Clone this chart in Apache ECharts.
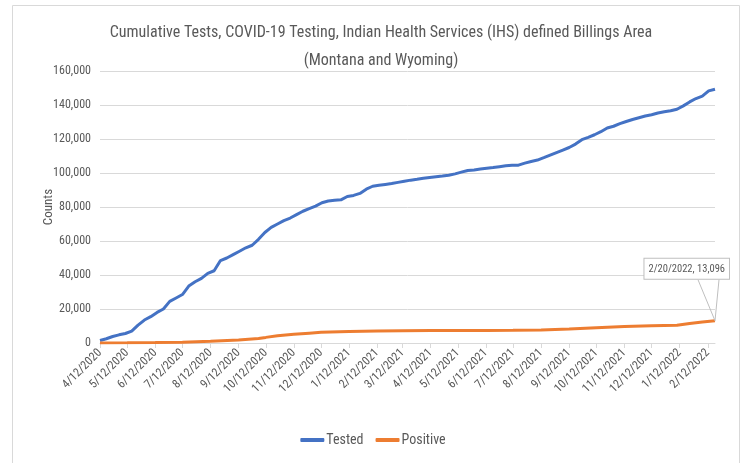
<!DOCTYPE html>
<html>
<head>
<meta charset="utf-8">
<script src="https://cdn.jsdelivr.net/npm/echarts@6/dist/echarts.min.js"></script>
<style>html,body{margin:0;padding:0;background:#fff}#c{width:746px;height:463px}</style>
</head>
<body>
<div id="c"></div>
<script>
var titleText = 'Cumulative Tests, COVID-19 Testing, Indian Health Services (IHS) defined Billings Area\n(Montana and Wyoming)';
var yTicks = [0, 20000, 40000, 60000, 80000, 100000, 120000, 140000, 160000];
var startDate = '2020-04-12';
var endDate = '2022-02-20';

var testedDates = ['2020-04-12','2020-04-19','2020-04-26','2020-05-03','2020-05-10','2020-05-17','2020-05-24','2020-05-31','2020-06-07','2020-06-14','2020-06-21','2020-06-28','2020-07-05','2020-07-12','2020-07-19','2020-07-26','2020-08-02','2020-08-09','2020-08-16','2020-08-23','2020-08-30','2020-09-06','2020-09-13','2020-09-20','2020-09-27','2020-10-04','2020-10-11','2020-10-18','2020-10-25','2020-11-01','2020-11-08','2020-11-15','2020-11-22','2020-11-29','2020-12-06','2020-12-13','2020-12-20','2020-12-27','2021-01-03','2021-01-10','2021-01-17','2021-01-24','2021-01-31','2021-02-07','2021-02-14','2021-02-21','2021-02-28','2021-03-07','2021-03-14','2021-03-21','2021-03-28','2021-04-04','2021-04-11','2021-04-18','2021-04-25','2021-05-02','2021-05-09','2021-05-16','2021-05-23','2021-05-30','2021-06-06','2021-06-13','2021-06-20','2021-06-27','2021-07-04','2021-07-11','2021-07-18','2021-07-25','2021-08-01','2021-08-08','2021-08-15','2021-08-22','2021-08-29','2021-09-05','2021-09-12','2021-09-19','2021-09-26','2021-10-03','2021-10-10','2021-10-17','2021-10-24','2021-10-31','2021-11-07','2021-11-14','2021-11-21','2021-11-28','2021-12-05','2021-12-12','2021-12-19','2021-12-26','2022-01-02','2022-01-09','2022-01-16','2022-01-23','2022-01-30','2022-02-06','2022-02-13','2022-02-20'];
var testedValues = [1500,2500,3800,4800,5600,7000,10500,13500,15500,18000,20000,24500,26500,28500,33500,36000,38000,41000,42500,48500,50000,52000,54000,56000,57500,61000,65000,68000,70000,72000,73500,75500,77500,79000,80500,82500,83500,84000,84200,86200,86800,88000,90500,92200,92800,93300,93800,94500,95200,95800,96300,96900,97400,97800,98200,98700,99500,100500,101500,101800,102300,102800,103200,103700,104200,104500,104600,105800,106800,107600,109000,110500,112000,113500,115000,117000,119600,121000,122500,124300,126500,127500,129000,130300,131500,132500,133500,134300,135300,136000,136600,137500,139500,141800,143800,145200,148300,149300];

var positiveDates = ['2020-04-12','2020-05-12','2020-06-12','2020-07-12','2020-08-12','2020-09-12','2020-10-04','2020-10-12','2020-10-25','2020-11-12','2020-11-29','2020-12-12','2021-01-12','2021-02-12','2021-03-12','2021-04-12','2021-05-12','2021-06-12','2021-07-12','2021-08-12','2021-09-12','2021-10-12','2021-11-12','2021-12-12','2022-01-09','2022-01-23','2022-02-06','2022-02-20'];
var positiveValues = [50,150,300,500,1000,1700,2700,3300,4300,5100,5800,6300,6800,7000,7200,7300,7350,7400,7450,7700,8200,9000,9700,10100,10400,11500,12400,13096];

function fmtDate(d) { return (d.getUTCMonth() + 1) + '/' + d.getUTCDate() + '/' + d.getUTCFullYear(); }
function parse(s) { return new Date(s + 'T00:00:00Z'); }

// daily category axis
var categories = [];
var idxOf = {};
for (var t = parse(startDate).getTime(); t <= parse(endDate).getTime(); t += 86400000) {
  var d = new Date(t);
  idxOf[d.toISOString().slice(0, 10)] = categories.length;
  categories.push(fmtDate(d));
}
function toDaily(dates, vals) {
  var arr = categories.map(function () { return null; });
  dates.forEach(function (dt, i) { arr[idxOf[dt]] = vals[i]; });
  return arr;
}
function isTwelfth(index, value) { return value.split('/')[1] === '12'; }

var FONT = '"Roboto Condensed", "Liberation Sans Narrow", "Open Sans", sans-serif';
var TXT = '#595959';
var GRID = '#d9d9d9';

var chart = echarts.init(document.getElementById('c'));
var option = {
  animation: false,
  textStyle: { fontFamily: FONT },
  title: {
    text: titleText,
    left: 376, textAlign: 'center', top: 14,
    textStyle: { fontFamily: FONT, fontSize: 16, fontWeight: 'normal', color: TXT, lineHeight: 28 }
  },
  legend: {
    bottom: 11, left: 'center', padding: [5, 0, 5, 14],
    icon: 'roundRect', itemWidth: 24, itemHeight: 4, itemGap: 12,
    textStyle: { fontFamily: FONT, fontSize: 14, color: TXT, padding: [0, 0, 0, -3] },
    data: ['Tested', 'Positive']
  },
  grid: { left: 100, right: 31, top: 71, bottom: 120, containLabel: false },
  xAxis: {
    type: 'category', data: categories, boundaryGap: false,
    axisLine: { lineStyle: { color: GRID, width: 1 } },
    axisTick: { show: true, interval: isTwelfth, length: 5, lineStyle: { color: GRID } },
    axisLabel: { interval: isTwelfth, rotate: 45, fontSize: 12, color: TXT, fontFamily: FONT, margin: 8 },
    splitLine: { show: false }
  },
  yAxis: {
    type: 'value', min: yTicks[0], max: yTicks[yTicks.length - 1], interval: yTicks[1] - yTicks[0],
    name: 'Counts', nameLocation: 'middle', nameGap: 45, nameRotate: 90, nameMoveOverlap: false,
    nameTextStyle: { fontFamily: FONT, fontSize: 13, color: TXT },
    axisLine: { show: false }, axisTick: { show: false },
    axisLabel: { fontSize: 12, color: TXT, fontFamily: FONT, margin: 9,
      formatter: function (v) { return v.toLocaleString('en-US'); } },
    splitLine: { lineStyle: { color: GRID, width: 1 } }
  },
  series: [
    { name: 'Tested', type: 'line', data: toDaily(testedDates, testedValues), connectNulls: true,
      showSymbol: false, symbol: 'none', lineStyle: { color: '#4472C4', width: 3 }, itemStyle: { color: '#4472C4' } },
    { name: 'Positive', type: 'line', data: toDaily(positiveDates, positiveValues), connectNulls: true,
      showSymbol: false, symbol: 'none', lineStyle: { color: '#ED7D31', width: 3 }, itemStyle: { color: '#ED7D31' } }
  ]
};
chart.setOption(option);

// data callout for last positive value
var lastI = positiveDates.length - 1;
var lastCat = categories[idxOf[positiveDates[lastI]]];
var lastVal = positiveValues[lastI];
var p = chart.convertToPixel({ xAxisIndex: 0, yAxisIndex: 0 }, [lastCat, lastVal]);
var boxRight = p[0] + 14, boxTop = p[1] - 62, boxH = 21;
chart.setOption({
  graphic: [
    { type: 'rect', silent: true, shape: { x: 12.5, y: 5.5, width: 727, height: 470 },
      style: { fill: 'none', stroke: GRID, lineWidth: 1 } },
    { type: 'polyline', silent: true, z: 100,
      shape: { points: [[p[0] - 17, boxTop + boxH], [p[0], p[1]], [p[0] + 4, boxTop + boxH]] },
      style: { stroke: '#bfbfbf', lineWidth: 1, fill: 'none' } },
    { type: 'text', silent: true, z: 101, x: boxRight, y: boxTop,
      style: { text: lastCat + ', ' + lastVal.toLocaleString('en-US'), fontSize: 10.5, fontFamily: FONT, fill: TXT,
        align: 'right', verticalAlign: 'top',
        backgroundColor: '#fff', borderColor: '#bfbfbf', borderWidth: 1, padding: [5, 4, 4, 4] } }
  ]
});
</script>
</body>
</html>
